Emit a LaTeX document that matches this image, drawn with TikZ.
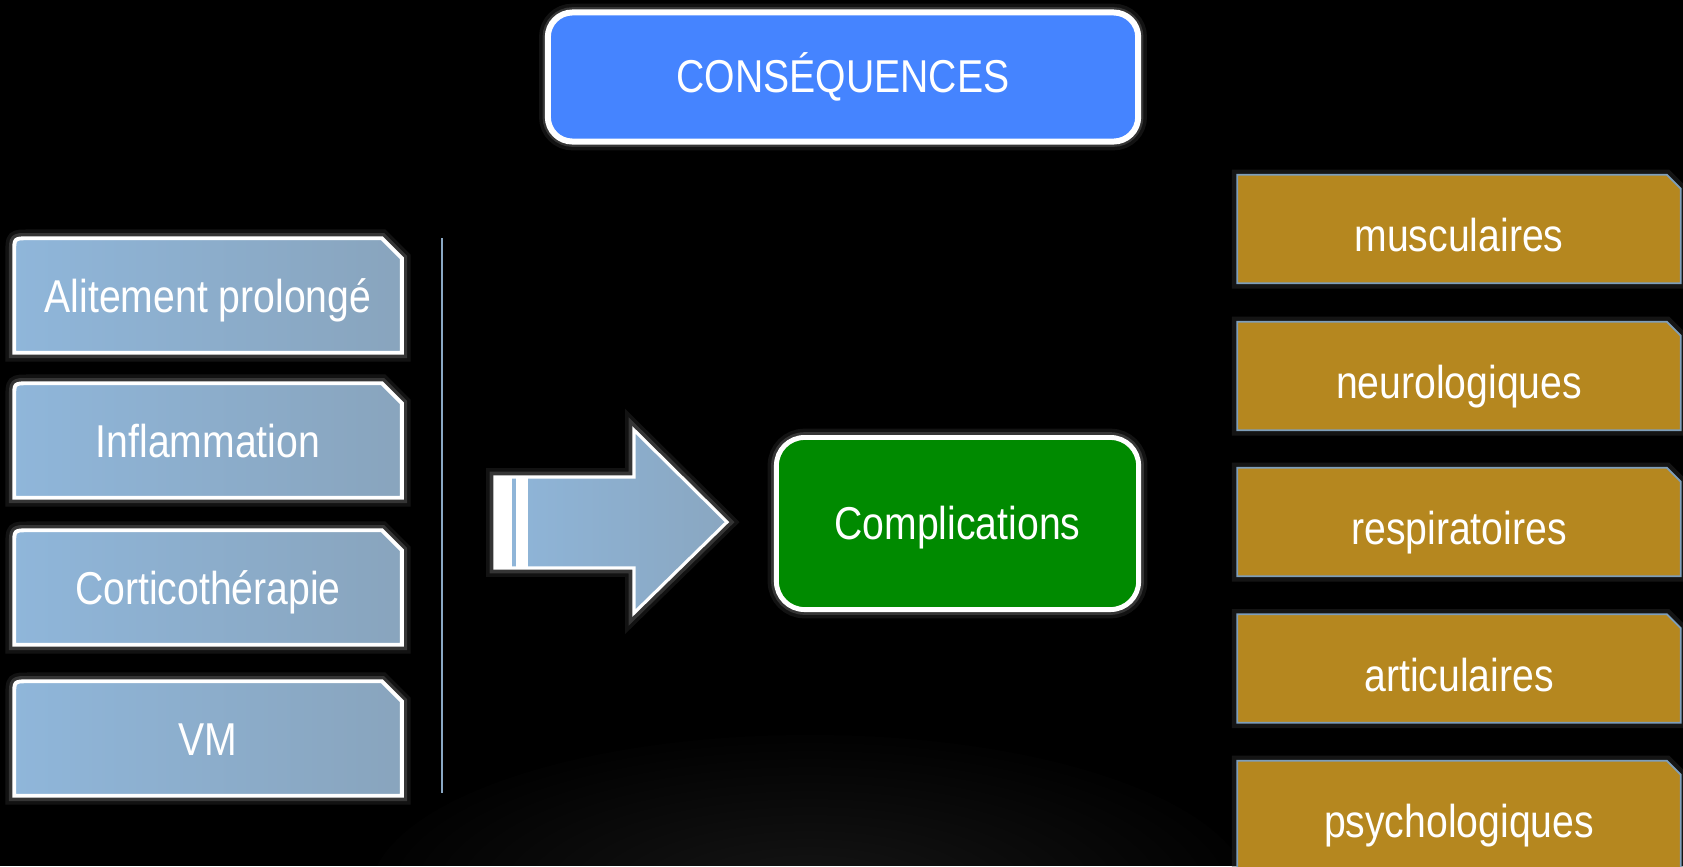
\documentclass[tikz,border=0pt]{standalone}
\usepackage{fontspec}
\setmainfont{Liberation Sans}[FakeStretch=0.85]
\usetikzlibrary{calc,backgrounds}

\definecolor{causeL}{HTML}{8FB6DA}
\definecolor{causeR}{HTML}{87A0B6}
\definecolor{headblue}{HTML}{4584FF}
\definecolor{compgreen}{HTML}{008A00}
\definecolor{effgold}{HTML}{B5871F}
\definecolor{effedge}{HTML}{7E9EBA}
\definecolor{rulecol}{HTML}{8AA8C4}

% box with the top right corner cut off
\newcommand\snipbox[4][]{%
  \path[#1] (#2.south west) -- ($(#2.north west)+(0,#4)$)
    .. controls (#2.north west) .. ($(#2.north west)+(#4,0)$)
    -- ($(#2.north east)+(-#3,0)$) -- ($(#2.north east)+(0,#3)$)
    -- (#2.south east) -- cycle;}

\tikzset{
  lbl/.style={text=white, inner sep=0pt, text height=0.8em, text depth=0pt,
    font=\fontsize{13.1pt}{15pt}\selectfont},
  glow/.style={preaction={draw=white, line width=5pt, opacity=.07},
    preaction={draw=white, line width=3pt, opacity=.15}},
  headbox/.style={lbl, text height=0.88em, glow, draw=white, line width=1.7pt, fill=headblue,
    rounded corners=7pt, minimum width=5.9cm, minimum height=1.29cm},
  compbox/.style={lbl, text height=0.92em, glow, draw=white, line width=1.4pt, fill=compgreen,
    rounded corners=8pt, minimum width=3.62cm, minimum height=1.72cm},
  cause/.style={lbl, text height=0.95em, minimum width=3.86cm, minimum height=1.13cm},
  effect/.style={lbl, text height=1.28em, minimum width=4.42cm, minimum height=1.07cm},
  causefill/.style={glow, shade, left color=causeL, middle color=causeL!92!causeR,
    right color=causeR!80!causeL, draw=white, line width=1.1pt},
  effectfill/.style={fill=effgold, draw=effedge, line width=0.5pt,
    preaction={draw=white!20!black, line width=3pt, opacity=.4}},
}

\begin{document}
\begin{tikzpicture}[x=0.01cm, y=-0.01cm]
\useasboundingbox (0,0) rectangle (1683,866);

\node[headbox] (conseq) at (843,77) {CONSÉQUENCES};
\node[compbox] (compl) at (957.5,523.5) {Complications};

% causes
\foreach \name/\yc/\txt in {alit/295.5/Alitement prolongé, infl/440.5/Inflammation,
    cort/587.5/Corticothérapie, vm/738.5/VM}
  \node[cause] (\name) at (208,\yc) {\txt};

% complications
\foreach \name/\yc/\txt in {musc/229/musculaires, neuro/376/neurologiques,
    resp/522/respiratoires, artic/668.5/articulaires, psych/815/psychologiques}
  \node[effect] (\name) at (1459,\yc) {\txt};

\begin{scope}[on background layer]
  \fill[black] (0,0) rectangle (1683,866);
  % soft light at the bottom
  \begin{scope}
    \clip (0,0) rectangle (1683,866);
    \foreach \i in {1,...,20}
      \fill[white, opacity=.0085] (810,895) ellipse [x radius=22*\i, y radius=8*\i];
  \end{scope}
  \foreach \n in {alit,infl,cort,vm}{%
    \snipbox[causefill]{\n}{20}{14}}%
  \foreach \n in {musc,neuro,resp,artic,psych}{%
    \snipbox[effectfill]{\n}{14}{0}}%
\end{scope}

% divider
\draw[rulecol, line width=0.6pt] (442,238) -- (442,793);

% big arrow
\path[glow, shade, left color=causeL, right color=causeR!70!causeL, draw=white, line width=0.9pt]
  (495,477) -- (634,477) -- (634,430) -- (727,522) -- (634,613) -- (634,568)
  -- (495,568) -- cycle;
\fill[white] (495,476) rectangle (512,569);
\fill[white] (516,476) rectangle (528,569);
\end{tikzpicture}
\end{document}
